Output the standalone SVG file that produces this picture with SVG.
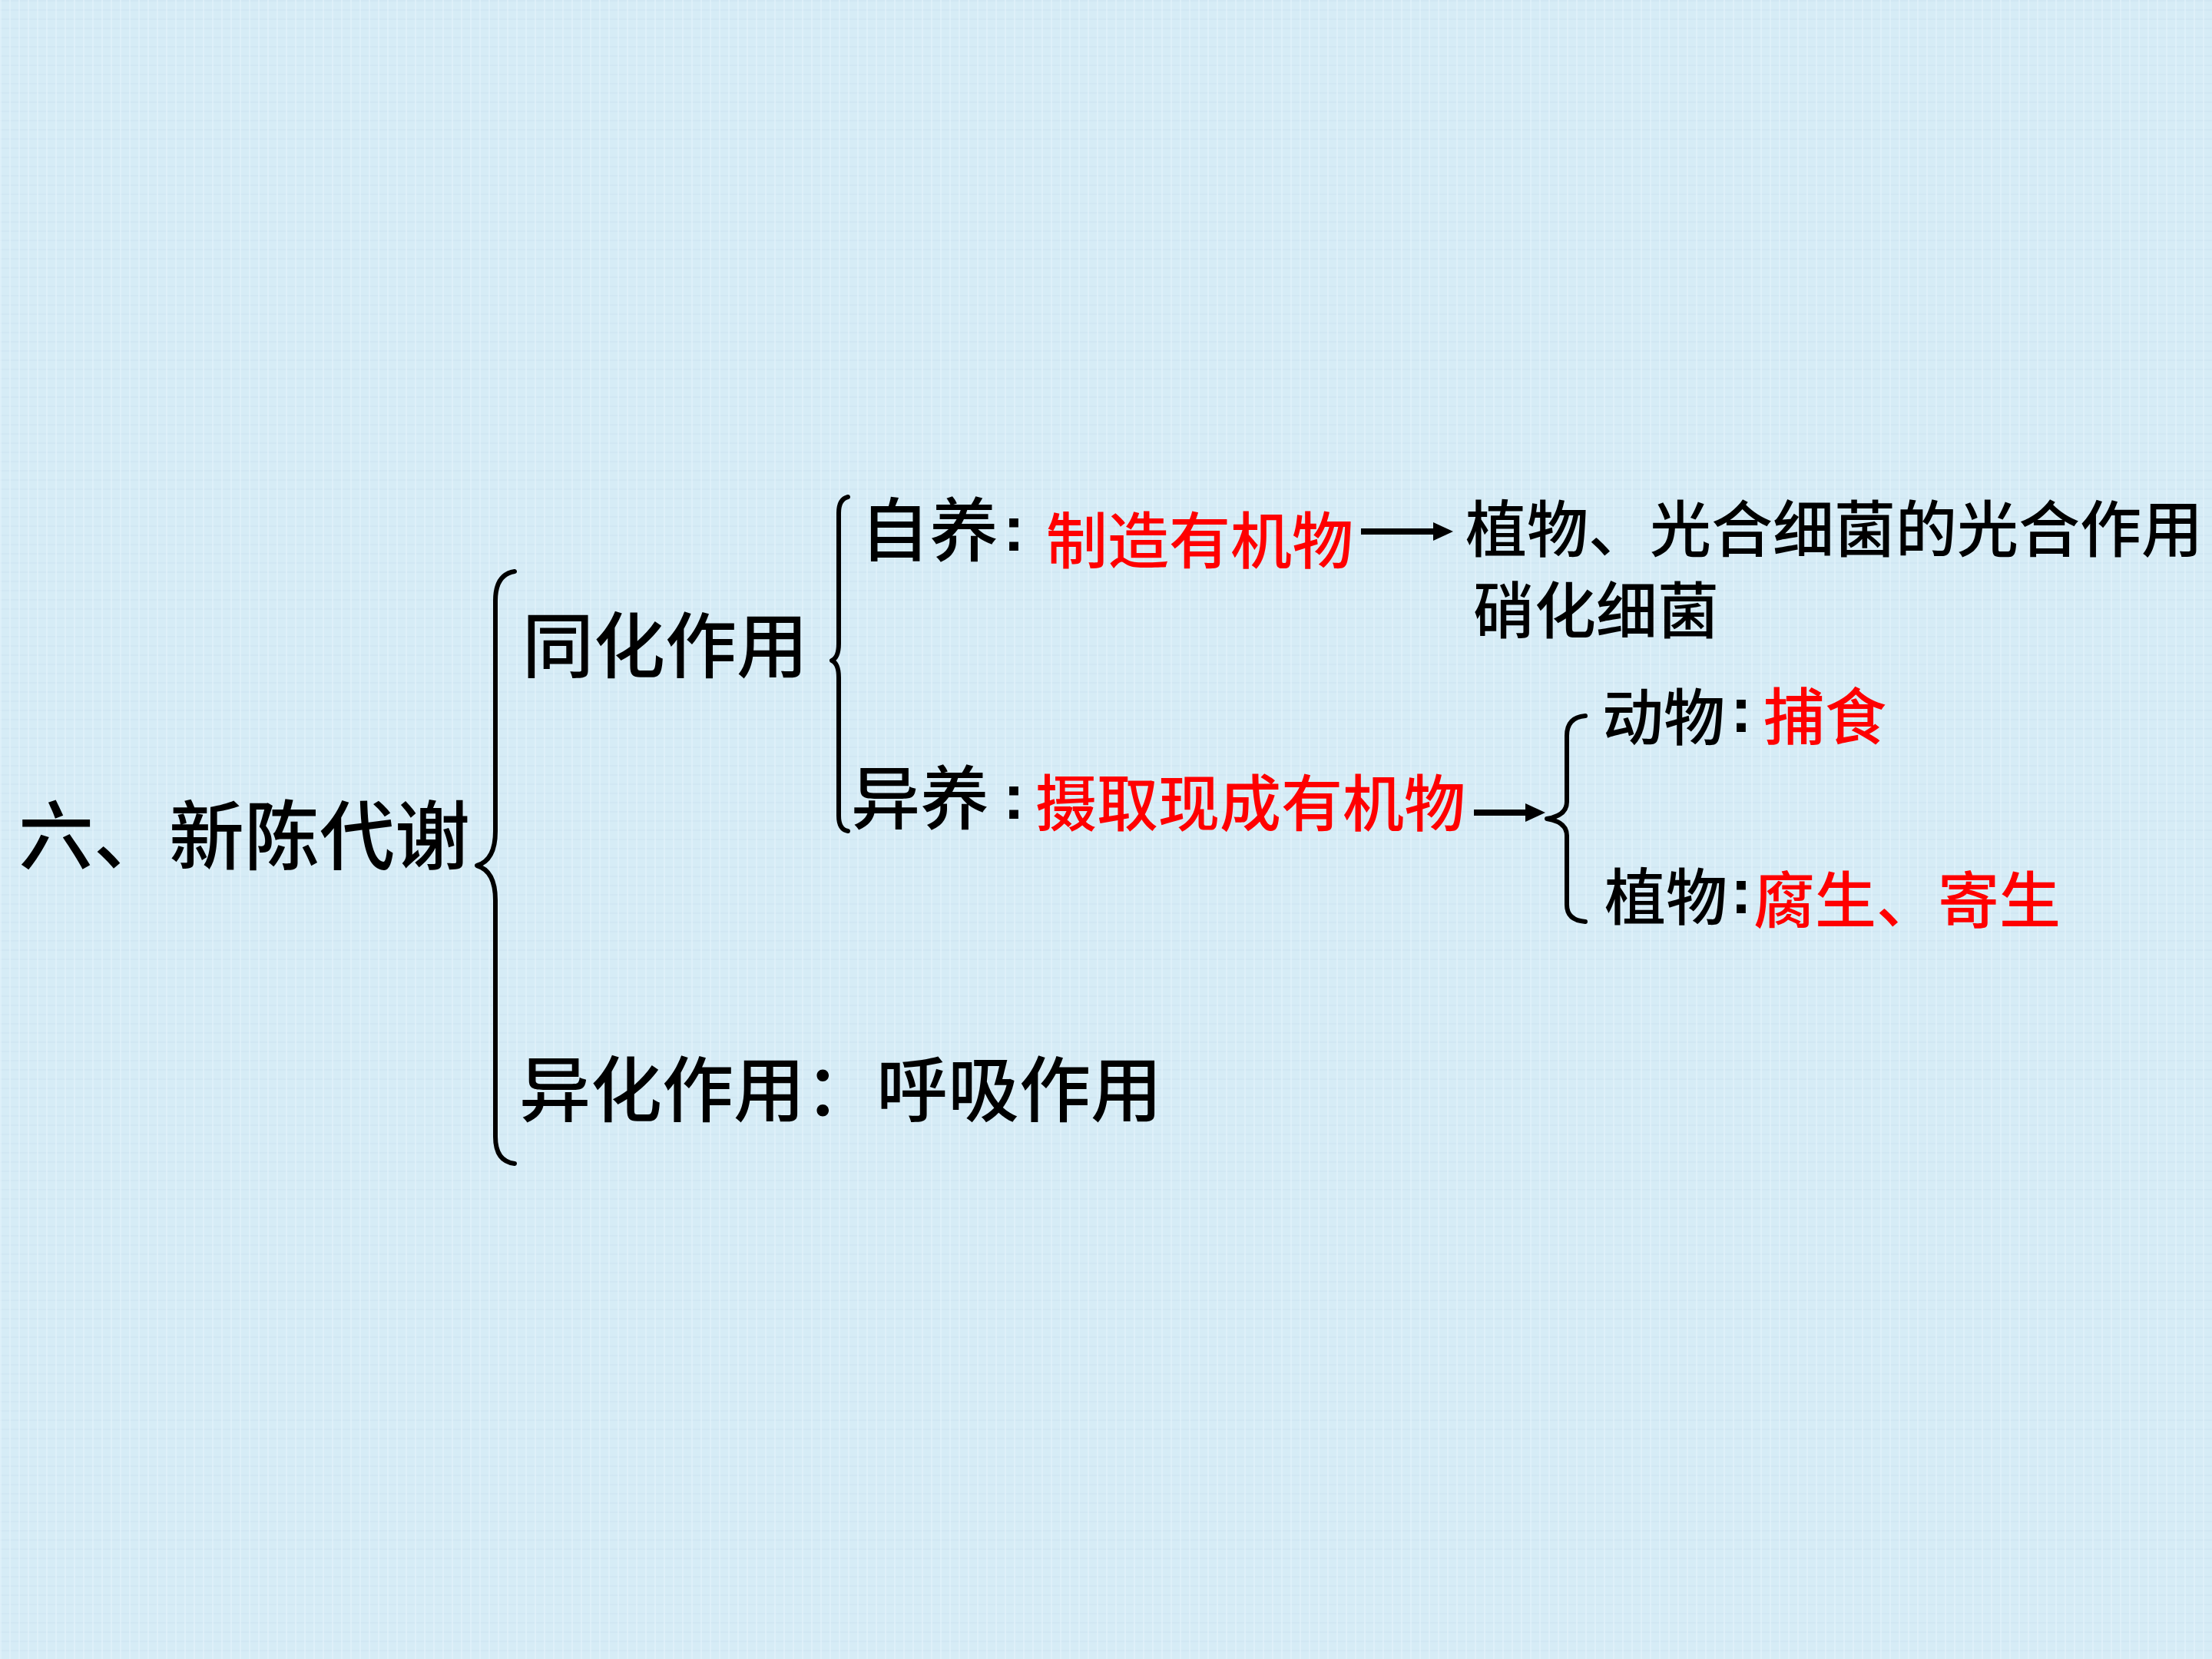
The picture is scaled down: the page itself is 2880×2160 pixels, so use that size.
<svg xmlns="http://www.w3.org/2000/svg" width="2880" height="2160" viewBox="0 0 2880 2160">
<defs>
<style>
.t{font-family:"Noto Sans CJK SC","Noto Sans CJK JP",sans-serif;font-weight:500;dominant-baseline:central;fill:#000}
.c{font-family:"Liberation Sans",Arial,sans-serif;font-weight:bold;font-size:84px;fill:#000}
.X{font-size:98px}
.L{font-size:93px}
.M{font-size:90px}
.S{font-size:80px}
.r{fill:#ff0000}
.br{fill:none;stroke:#000;stroke-width:6;stroke-linecap:round;stroke-linejoin:round}
.ar{stroke:#000;stroke-width:8;fill:none}
.hd{fill:#000}
</style>
<pattern id="tex" width="12" height="12" patternUnits="userSpaceOnUse">
<rect width="12" height="12" fill="#d6ecf6"/>
<rect x="0" y="0" width="12" height="2" fill="#cde4f1" opacity="0.6"/>
<rect x="0" y="0" width="2" height="12" fill="#e2f4fb" opacity="0.6"/>
</pattern>
</defs>
<rect x="0" y="0" width="2880" height="2160" fill="url(#tex)"/>

<g id="connectors">
<path class="br" d="M670,744 Q645,748 645,782 L645,1082 Q645,1120 621,1127 Q645,1134 645,1172 L645,1480 Q645,1512 670,1515"/>
<path class="br" d="M1104,647 Q1092,650 1092,668 L1092,838 Q1092,856 1083,860 Q1092,864 1092,882 L1092,1062 Q1092,1080 1104,1082"/>
<path class="br" d="M2064,932 Q2040,934 2040,958 L2040,1044 Q2040,1062 2014,1066 Q2040,1070 2040,1088 L2040,1178 Q2040,1198 2064,1200"/>
<line class="ar" x1="1772" y1="692" x2="1870" y2="692"/>
<polygon class="hd" points="1866,680 1892,692 1866,704"/>
<line class="ar" x1="1919" y1="1058" x2="1990" y2="1058"/>
<polygon class="hd" points="1986,1046 2012,1058 1986,1070"/>
</g>

<g id="root">
<text class="t X" x="24" y="1081">六、新陈代谢</text>
</g>

<g id="tonghua">
<text class="t L" x="680" y="834">同化作用</text>
</g>

<g id="ziyang">
<text class="t M" x="1120" y="684">自养</text>
<text class="c" x="1306" y="717">:</text>
<text class="t S r" x="1362" y="698">制造有机物</text>
</g>

<g id="zi-result">
<text class="t S" x="1908" y="683">植物、光合细菌的光合作用</text>
<text class="t S" x="1918" y="789">硝化细菌</text>
</g>

<g id="yiyang">
<text class="t M" x="1108" y="1033">异养</text>
<text class="c" x="1306" y="1066">:</text>
<text class="t S r" x="1348" y="1040">摄取现成有机物</text>
</g>

<g id="dongwu">
<text class="t S" x="2086" y="928">动物</text>
<text class="c" x="2253" y="953">:</text>
<text class="t S r" x="2296" y="927">捕食</text>
</g>

<g id="zhiwu">
<text class="t S" x="2089" y="1162">植物</text>
<text class="c" x="2253" y="1189">:</text>
<text class="t S r" x="2283" y="1166">腐生、寄生</text>
</g>

<g id="yihua">
<text class="t L" x="676" y="1412">异化作用：呼吸作用</text>
</g>
</svg>
